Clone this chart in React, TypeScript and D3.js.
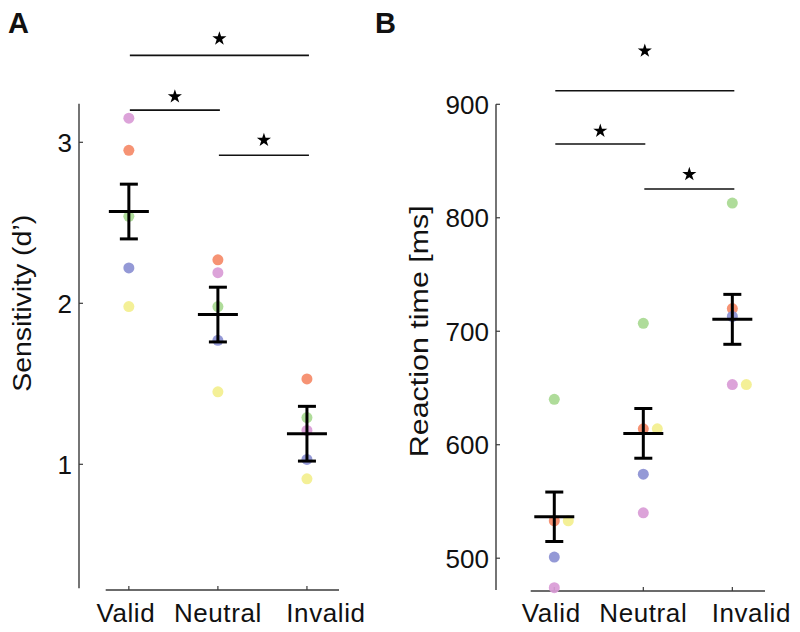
import React from "react";
import * as d3 from "d3";

// ---------- data ----------
const conditions = ["Valid", "Neutral", "Invalid"];
const subjectColors = ["#d99bd6", "#f58a68", "#a8d991", "#8b90d2", "#f3ef8e"]; // pink, orange, green, blue, yellow

// per-subject sensitivity (d') for Valid, Neutral, Invalid
const dPink = [3.15, 2.19, 1.21];
const dOrange = [2.95, 2.27, 1.53];
const dGreen = [2.54, 1.98, 1.29];
const dBlue = [2.22, 1.77, 1.03];
const dYellow = [1.98, 1.45, 0.91];
const dMean = [2.57, 1.93, 1.19];
const dErr = [0.17, 0.17, 0.17];
const dTicks = [1, 2, 3];

// per-subject reaction time (ms)
const rtPink = [474, 540, 653];
const rtOrange = [533, 614, 720];
const rtGreen = [640, 707, 813];
const rtBlue = [501, 574, 713];
const rtYellow = [533, 614, 653];
const rtMean = [536.5, 610, 710.5];
const rtErr = [21.8, 21.9, 22];
const rtTicks = [500, 600, 700, 800, 900];

// significance comparisons: [from, to], bar level and star level in data units
const sigPairs: [number, number][] = [[0, 2], [0, 1], [1, 2]];
const dSigLevel = [3.54, 3.2, 2.92];
const dStarLevel = [3.65, 3.29, 3.02];
const rtSigLevel = [912, 865, 825.4];
const rtStarLevel = [948, 877.4, 839.2];

const dSubjects = [dPink, dOrange, dGreen, dBlue, dYellow];
const rtSubjects = [rtPink, rtOrange, rtGreen, rtBlue, rtYellow];

// ---------- drawing ----------
const FONT = "Liberation Sans, Arial, Helvetica, sans-serif";
const AXIS_COLOR = "#3a3a3a";
const LABEL_SHIFT = [-3, 0, 19]; // category label nudges (style)

type PanelProps = {
  letter: string;
  letterX: number;
  xScale: d3.ScaleLinear<number, number>;
  yScale: d3.ScaleLinear<number, number>;
  yAxisX: number;
  yAxisBottom: number;
  yAxisTop: number;
  xAxisY: number;
  xAxisLeft: number;
  xAxisRight: number;
  ticks: number[];
  subjects: number[][];
  means: number[];
  errs: number[];
  sigLevels: number[];
  starLevels: number[];
  yLabel: string;
  yLabelX: number;
  yLabelLen: number;
};

const star = d3.symbol().type(d3.symbolStar).size(62)();

function Panel(p: PanelProps) {
  const { xScale, yScale } = p;
  const dots: { x: number; y: number; c: string; key: string }[] = [];
  conditions.forEach((_, ci) => {
    const placed: { x: number; y: number }[] = [];
    p.subjects.forEach((vals, si) => {
      const y = yScale(vals[ci]);
      let x = xScale(ci + 1);
      while (placed.some((q) => Math.abs(q.y - y) < 2 && Math.abs(q.x - x) < 4)) x += 14;
      placed.push({ x, y });
      dots.push({ x, y, c: subjectColors[si], key: `${ci}-${si}` });
    });
  });
  const yLabelCenter = (yScale.range()[0] + yScale.range()[1]) / 2;
  return (
    <g>
      <text x={p.letterX} y={33} fontFamily={FONT} fontWeight="bold" fontSize={29} fill="#111">
        {p.letter}
      </text>
      {/* y axis */}
      <line x1={p.yAxisX} x2={p.yAxisX} y1={p.yAxisTop} y2={p.yAxisBottom} stroke={AXIS_COLOR} strokeWidth={1.4} />
      {p.ticks.map((t) => (
        <g key={t}>
          <line x1={p.yAxisX} x2={p.yAxisX + 4} y1={yScale(t)} y2={yScale(t)} stroke={AXIS_COLOR} strokeWidth={1.2} />
          <text
            x={p.yAxisX - 7}
            y={yScale(t)}
            dy="0.36em"
            textAnchor="end"
            fontFamily={FONT}
            fontSize={26}
            fill="#111"
          >
            {t}
          </text>
        </g>
      ))}
      <text
        transform={`translate(${p.yLabelX},${yLabelCenter}) rotate(-90)`}
        textAnchor="middle"
        fontFamily={FONT}
        fontSize={26}
        fill="#111"
        textLength={p.yLabelLen}
        lengthAdjust="spacingAndGlyphs"
      >
        {p.yLabel}
      </text>
      {/* x axis */}
      <line x1={p.xAxisLeft} x2={p.xAxisRight} y1={p.xAxisY} y2={p.xAxisY} stroke={AXIS_COLOR} strokeWidth={1.4} />
      {conditions.map((c, i) => (
        <g key={c}>
          <line x1={xScale(i + 1)} x2={xScale(i + 1)} y1={p.xAxisY} y2={p.xAxisY - 4} stroke={AXIS_COLOR} strokeWidth={1.2} />
          <text
            x={xScale(i + 1) + LABEL_SHIFT[i]}
            y={622}
            textAnchor="middle"
            fontFamily={FONT}
            fontSize={26}
            fill="#111"
            letterSpacing={0.6}
          >
            {c}
          </text>
        </g>
      ))}
      {/* subject dots */}
      {dots.map((d) => (
        <circle key={d.key} cx={d.x} cy={d.y} r={5.5} fill={d.c} fillOpacity={0.92} />
      ))}
      {/* mean +/- error */}
      {p.means.map((m, i) => {
        const x = xScale(i + 1);
        const top = yScale(m + p.errs[i]);
        const bot = yScale(m - p.errs[i]);
        return (
          <g key={i} stroke="#000" strokeWidth={3}>
            <line x1={x} x2={x} y1={top} y2={bot} />
            <line x1={x - 9} x2={x + 9} y1={top} y2={top} />
            <line x1={x - 9} x2={x + 9} y1={bot} y2={bot} />
            <line x1={x - 20} x2={x + 20} y1={yScale(m)} y2={yScale(m)} />
          </g>
        );
      })}
      {/* significance bars */}
      {sigPairs.map(([a, b], i) => {
        const x1 = xScale(a + 1) + 1;
        const x2 = xScale(b + 1) + 2;
        const y = yScale(p.sigLevels[i]);
        return (
          <g key={i}>
            <line x1={x1} x2={x2} y1={y} y2={y} stroke="#111" strokeWidth={1.6} />
            <path d={star || ""} transform={`translate(${(x1 + x2) / 2},${yScale(p.starLevels[i]) + 1})`} fill="#000" />
          </g>
        );
      })}
    </g>
  );
}

export default function App() {
  const xA = d3.scaleLinear().domain([0.74, 3.36]).range([105.7, 339]);
  const yA = d3.scaleLinear().domain([1, 3]).range([464.3, 142.3]);
  const xB = d3.scaleLinear().domain([0.735, 3.367]).range([530.7, 765]);
  const yB = d3.scaleLinear().domain([500, 900]).range([558.2, 104.3]);
  return (
    <svg
      width={800}
      height={632}
      viewBox="0 0 800 632"
      style={{ position: "absolute", left: 0, top: 0, background: "#fff" }}
    >
      <rect width={800} height={632} fill="#fff" />
      <Panel
        letter="A"
        letterX={8}
        xScale={xA}
        yScale={yA}
        yAxisX={79}
        yAxisTop={yA(3.24)}
        yAxisBottom={yA(0.23)}
        xAxisY={590}
        xAxisLeft={105.7}
        xAxisRight={339}
        ticks={dTicks}
        subjects={dSubjects}
        means={dMean}
        errs={dErr}
        sigLevels={dSigLevel}
        starLevels={dStarLevel}
        yLabel="Sensitivity (d’)"
        yLabelX={31}
        yLabelLen={177}
      />
      <Panel
        letter="B"
        letterX={375}
        xScale={xB}
        yScale={yB}
        yAxisX={496}
        yAxisTop={yB(900)}
        yAxisBottom={yB(472)}
        xAxisY={591}
        xAxisLeft={530.7}
        xAxisRight={765}
        ticks={rtTicks}
        subjects={rtSubjects}
        means={rtMean}
        errs={rtErr}
        sigLevels={rtSigLevel}
        starLevels={rtStarLevel}
        yLabel="Reaction time [ms]"
        yLabelX={428}
        yLabelLen={252}
      />
    </svg>
  );
}
